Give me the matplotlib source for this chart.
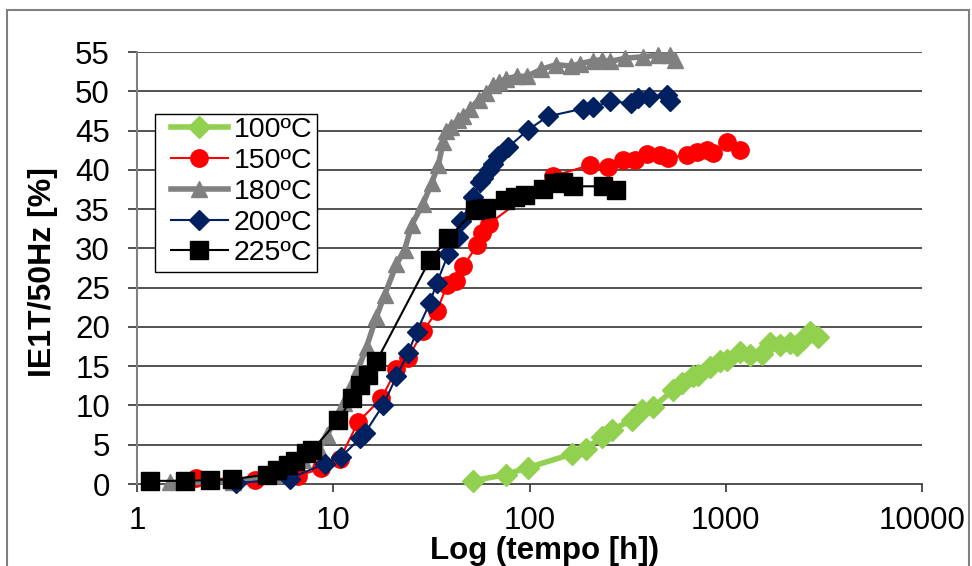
import matplotlib
matplotlib.use("Agg")
import matplotlib.pyplot as plt
from matplotlib.patches import Rectangle
from matplotlib.ticker import FixedLocator, FixedFormatter, NullLocator

plt.rcParams['font.family'] = ['Liberation Sans', 'DejaVu Sans']

# ---- data ----
labels = ['100ºC', '150ºC', '180ºC', '200ºC', '225ºC']

t100 = [51.5, 75.6, 98.6, 164, 195, 233, 262, 331, 373, 428, 541, 597, 684, 725,
        831, 935, 1011, 1183, 1330, 1525, 1682, 1890, 2124, 2300, 2485, 2687, 2965]
ie100 = [0.4, 1.2, 2.1, 3.8, 4.5, 6.0, 6.9, 8.1, 9.4, 9.8, 12.0, 12.8, 13.7, 13.9,
         14.9, 15.6, 15.8, 16.8, 16.4, 16.6, 17.9, 17.7, 17.9, 17.7, 18.5, 19.4, 18.7]

t150 = [2.0, 4.0, 6.6, 8.7, 10.8, 13.4, 17.6, 21, 24.1, 28.8, 33.7, 38, 42, 46, 54,
        57, 62, 132, 203, 252, 301, 345, 396, 462, 510, 632, 711, 800, 865, 1011, 1183]
ie150 = [0.8, 0.5, 1.0, 2.0, 3.2, 7.9, 10.9, 14.6, 16.1, 19.5, 22.0, 25.3, 25.9, 27.7,
         30.4, 31.9, 33.1, 39.2, 40.6, 40.4, 41.2, 41.3, 42.0, 41.9, 41.5, 41.9, 42.3,
         42.5, 42.1, 43.5, 42.5]

t180 = [1.47, 3.1, 5.0, 7.0, 8.5, 9.3, 11.3, 12.6, 13.5, 14.8, 16.6, 18.3, 21, 23.1,
        25.1, 28.7, 31.7, 34.3, 36.3, 37.5, 40, 43, 46, 50, 55, 60, 65, 70, 76, 86, 97,
        115, 137, 163, 180, 211, 233, 257, 307, 380, 453, 521, 550]
ie180 = [0.2, 0.3, 1.2, 3.0, 4.5, 6.2, 10.3, 13.0, 14.8, 17.5, 21.3, 24.1, 28.0, 29.8,
         33.0, 35.7, 38.3, 40.6, 43.5, 45.0, 45.5, 46.3, 46.8, 47.8, 48.9, 49.8, 50.8,
         51.2, 51.6, 51.9, 51.9, 52.8, 53.4, 53.2, 53.5, 53.9, 54.0, 53.8, 54.2, 54.4,
         54.6, 54.6, 54.0]

t200 = [3.2, 6.0, 9.1, 11.0, 13.7, 14.5, 18, 21, 24.1, 26.6, 31, 33.7, 38.6, 43.3, 45,
        51.5, 56, 58, 62, 65.4, 69, 78, 98.5, 124, 188, 211, 257, 330, 358, 404, 500, 520]
ie200 = [0.1, 0.7, 2.6, 3.5, 5.8, 6.5, 10.1, 13.7, 16.7, 19.4, 23.0, 25.6, 29.3, 31.5,
         33.5, 36.5, 38.4, 39.0, 40.0, 40.8, 41.7, 42.9, 45.1, 46.8, 47.8, 48.0, 48.7,
         48.5, 49.1, 49.3, 49.5, 48.8]

t225 = [1.17, 1.76, 2.35, 3.06, 4.58, 5.15, 5.9, 6.4, 7.3, 7.8, 10.6, 12.4, 13.7, 15.1,
        16.6, 31, 38.6, 52.8, 56, 60, 75, 84, 94.5, 117, 134, 148, 167, 237, 277]
ie225 = [0.4, 0.4, 0.5, 0.6, 1.2, 1.8, 2.4, 2.9, 3.9, 4.3, 8.1, 10.9, 12.6, 13.9, 15.6,
         28.5, 31.3, 34.9, 35.0, 35.2, 36.2, 36.6, 36.8, 37.6, 38.3, 38.5, 37.9, 37.9, 37.4]

xticks = [1, 10, 100, 1000, 10000]
xticklabels = ['1', '10', '100', '1000', '10000']
yticks = list(range(0, 56, 5))

# ---- figure ----
W, H = 972, 566
AX_L, AX_R, AX_T, AX_B = 137, 922, 52, 484
AW, AH = AX_R - AX_L, AX_B - AX_T

fig = plt.figure(figsize=(W / 100, H / 100), dpi=100)
fig.patches.append(Rectangle((7 / W, -0.1), (969 - 7) / W, 1.1 - 10 / H,
                             transform=fig.transFigure, fill=False,
                             edgecolor='#808080', linewidth=1.5))

ax = fig.add_axes([AX_L / W, 1 - AX_B / H, AW / W, AH / H])
ax.set_xscale('log')
ax.set_xlim(1, 10000)
ax.set_ylim(0, 55)

for y in yticks[1:]:
    ax.axhline(y, color='#333333', linewidth=1.2, zorder=1)

series = [
    (t100, ie100, '#92D050', 'D', 11, 4.0),
    (t150, ie150, '#FF0000', 'o', 12.5, 1.5),
    (t180, ie180, '#808080', '^', 12, 4.0),
    (t200, ie200, '#002060', 'D', 10.5, 1.5),
    (t225, ie225, '#000000', 's', 13, 1.5),
]
for (t, v, c, m, ms, lw), lab in zip(series, labels):
    ax.plot(t, v, color=c, marker=m, markersize=ms, linewidth=lw,
            markeredgecolor=c, markerfacecolor=c, label=lab, clip_on=False, zorder=3)

for s in ['top', 'right']:
    ax.spines[s].set_visible(False)
ax.spines['left'].set_color('#808080')
ax.spines['left'].set_linewidth(1.5)
ax.spines['bottom'].set_color('#333333')
ax.spines['bottom'].set_linewidth(1.2)
ax.spines['bottom'].set_zorder(2)

ax.xaxis.set_major_locator(FixedLocator(xticks))
ax.xaxis.set_major_formatter(FixedFormatter(xticklabels))
ax.xaxis.set_minor_locator(NullLocator())
ax.set_yticks(yticks)
ax.tick_params(axis='y', direction='out', length=6.5, width=1.2, color='#333333',
               labelsize=22.5, pad=13)
ax.tick_params(axis='x', direction='out', length=6, width=1.2, color='#333333',
               labelsize=22.5, pad=10)

ax.set_xlabel('Log (tempo [h])', fontsize=22.5, fontweight='bold', va='top')
ax.xaxis.set_label_coords((545 - AX_L) / AW, (AX_B - 536) / AH)
ax.set_ylabel('IE1T/50Hz [%]', fontsize=23, fontweight='bold', va='bottom')
ax.yaxis.set_label_coords((58 - AX_L) / AW, (AX_B - 272) / AH)

# legend box frame
ax.add_patch(Rectangle(((155 - AX_L) / AW, (AX_B - 272) / AH), 162 / AW, 158 / AH,
                       transform=ax.transAxes, facecolor='white', edgecolor='black',
                       linewidth=1.0, zorder=4.5, clip_on=False))
leg = ax.legend(loc='upper left',
                bbox_to_anchor=((171 - AX_L) / AW, (AX_B - 117) / AH),
                borderaxespad=0, fontsize=20.5, frameon=False, handlelength=2.0,
                handletextpad=0.2, labelspacing=0.17, borderpad=0)
leg.set_zorder(5)

fig.savefig('out.png', dpi=100)
